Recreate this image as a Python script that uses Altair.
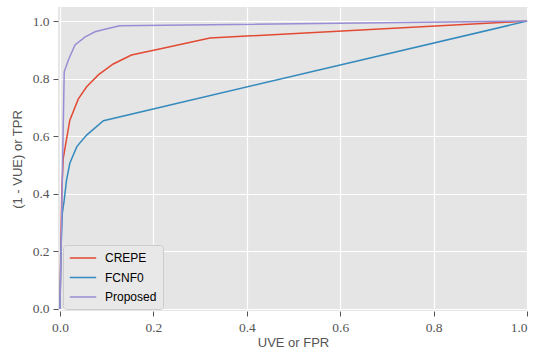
import altair as alt
import pandas as pd

crepe_x = [0.0, 0.002, 0.004, 0.007, 0.021, 0.039, 0.057, 0.082, 0.114, 0.153, 0.218, 0.321, 1.0]
crepe_y = [0.0, 0.25, 0.42, 0.524, 0.656, 0.729, 0.772, 0.813, 0.851, 0.882, 0.905, 0.941, 1.0]

fcnf0_x = [0.0, 0.002, 0.005, 0.009, 0.014, 0.021, 0.036, 0.057, 0.093, 1.0]
fcnf0_y = [0.0, 0.2, 0.333, 0.378, 0.448, 0.506, 0.564, 0.604, 0.654, 1.0]

prop_x = [0.0, 0.009, 0.018, 0.032, 0.054, 0.075, 0.096, 0.128, 1.0]
prop_y = [0.0, 0.824, 0.865, 0.917, 0.945, 0.963, 0.972, 0.984, 1.0]

series = ["CREPE", "FCNF0", "Proposed"]
colors = ["#E24A33", "#348ABD", "#988ED5"]
ticks = [0.0, 0.2, 0.4, 0.6, 0.8, 1.0]

rows = []
for name, xs, ys in [("CREPE", crepe_x, crepe_y), ("FCNF0", fcnf0_x, fcnf0_y), ("Proposed", prop_x, prop_y)]:
    for i, (a, b) in enumerate(zip(xs, ys)):
        rows.append({"series": name, "x": a, "y": b, "i": i})
df = pd.DataFrame(rows)

lab = dict(labelFont="Liberation Serif", labelFontSize=13.5, labelColor="#555555", labelPadding=4)

chart = alt.Chart(df).mark_line(strokeWidth=1.5, clip=True).encode(
    x=alt.X("x:Q", scale=alt.Scale(domain=[-0.0043, 1.002], nice=False, zero=False),
            axis=alt.Axis(values=ticks, format=".1f", title="UVE or FPR", titlePadding=3, **lab)),
    y=alt.Y("y:Q", scale=alt.Scale(domain=[-0.007, 1.049], nice=False, zero=False),
            axis=alt.Axis(values=ticks, format=".1f", title="(1 - VUE) or TPR", titlePadding=8, **lab)),
    color=alt.Color("series:N", scale=alt.Scale(domain=series, range=colors),
                    legend=alt.Legend(title=None, orient="none", legendX=5, legendY=238,
                                      symbolType="M-2.2,0H2.2", symbolSize=144, symbolStrokeWidth=1.5,
                                      symbolOffset=7,
                                      labelFont="Liberation Sans", labelFontSize=12, labelColor="#000000",
                                      fillColor="#E8E8E8", strokeColor="#CCCCCC", cornerRadius=3,
                                      padding=6, rowPadding=6.5, labelOffset=15)),
    order="i:Q",
).properties(
    width=470, height=304,
    autosize=alt.AutoSizeParams(type="none"),
    padding={"left": 58, "top": 7, "right": 6, "bottom": 43},
).configure_view(
    fill="#E5E5E5", stroke=None
).configure_axis(
    grid=True, gridColor="#FFFFFF", gridWidth=1.2, domain=False,
    tickColor="#555555", tickSize=5, tickWidth=1,
    labelFont="Liberation Serif", labelFontSize=13.5,
    titleFont="Liberation Sans", titleFontSize=13, titleColor="#555555", titleFontWeight="normal",
)

chart.save("out.html", embed_options={"renderer": "svg", "actions": False})
